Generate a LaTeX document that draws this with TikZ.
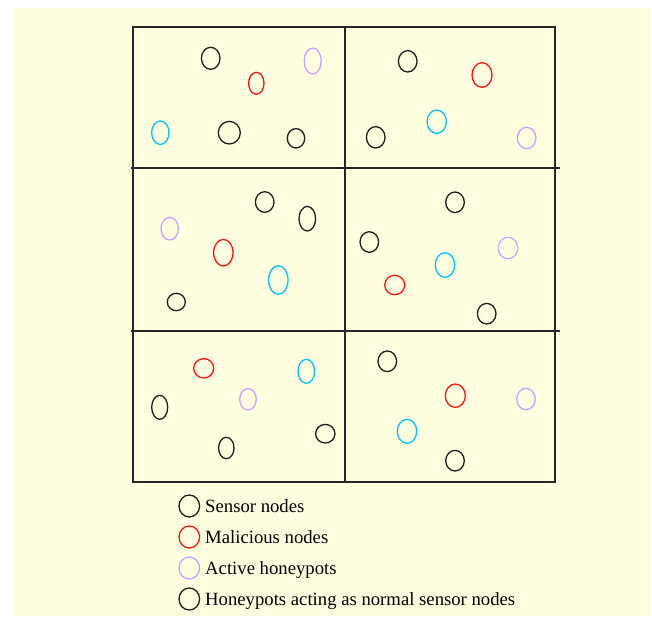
\documentclass[tikz,border=0pt]{standalone}
\usepackage{fontspec}
\setmainfont{Liberation Serif}
\usetikzlibrary{shapes.geometric}
\definecolor{bgyellow}{RGB}{255,255,224}
\definecolor{nblack}{RGB}{30,30,30}
\definecolor{nred}{RGB}{255,20,20}
\definecolor{nlav}{RGB}{200,160,255}
\definecolor{ncyan}{RGB}{0,195,250}
\tikzset{
  nd/.style 2 args={ellipse, draw, line width=1.3pt, inner sep=0pt, minimum width=#1pt, minimum height=#2pt},
  sens/.style={draw=nblack},
  mal/.style={draw=nred},
  act/.style={draw=nlav},
  pas/.style={draw=ncyan},
  gridline/.style={draw=black!85, line width=1.3pt},
  legtext/.style={anchor=base west, inner sep=0pt, font=\fontsize{18.7}{22}\selectfont}
}
\begin{document}
\begin{tikzpicture}[x=1pt,y=-1pt]
\useasboundingbox (0,0) rectangle (652,616);
\fill[bgyellow] (13,8) rectangle (650,616);
% frame
\coordinate (tl) at (133,27); \coordinate (br) at (555,482);
\draw[gridline] (tl) rectangle (br);
\coordinate (vt) at (345,27); \coordinate (vb) at (345,482);
\draw[gridline] (vt) -- (vb);
\coordinate (h1l) at (131,168); \coordinate (h1r) at (560,168);
\coordinate (h2l) at (131,331); \coordinate (h2r) at (560,331);
\draw[gridline] (h1l) -- (h1r);
\draw[gridline] (h2l) -- (h2r);
% cell 1
\node[nd={18.6}{22}, sens] (a1) at (210.7,58.3) {};
\node[nd={15.4}{22}, mal] (a2) at (256.3,83.3) {};
\node[nd={17}{26}, act] (a3) at (312.7,61) {};
\node[nd={17.4}{23.4}, pas] (a4) at (160.3,132.7) {};
\node[nd={22}{22.6}, sens] (a5) at (229.3,132.7) {};
\node[nd={17.4}{19.4}, sens] (a6) at (296,138.3) {};
% cell 2
\node[nd={18.6}{21.4}, sens] (b1) at (407.7,61.3) {};
\node[nd={20}{24.6}, mal] (b2) at (482,75) {};
\node[nd={19.4}{23.4}, pas] (b3) at (436.7,121.7) {};
\node[nd={18.6}{21.4}, sens] (b4) at (375.7,137.3) {};
\node[nd={18.6}{21.4}, act] (b5) at (526.7,138) {};
% cell 3
\node[nd={17.4}{22.6}, act] (c1) at (169.7,228.7) {};
\node[nd={19.4}{26.6}, mal] (c2) at (223.3,252.7) {};
\node[nd={18.6}{20.6}, sens] (c3) at (264.7,202) {};
\node[nd={16.6}{24.6}, sens] (c4) at (307.3,218.7) {};
\node[nd={19.4}{28.6}, pas] (c5) at (278.3,280) {};
\node[nd={18}{17.4}, sens] (c6) at (176.3,302) {};
% cell 4
\node[nd={18.6}{20.6}, sens] (d1) at (455,202.3) {};
\node[nd={18.6}{20.6}, sens] (d2) at (369.3,242) {};
\node[nd={19.4}{21.4}, act] (d3) at (508,248) {};
\node[nd={19.4}{24.6}, pas] (d4) at (445,265) {};
\node[nd={20}{19.4}, mal] (d5) at (394.7,285) {};
\node[nd={18.6}{20.6}, sens] (d6) at (486.7,313.7) {};
% cell 5
\node[nd={20}{19.4}, mal] (e1) at (203.7,368.3) {};
\node[nd={16.6}{24}, pas] (e2) at (306.3,371.3) {};
\node[nd={16}{24}, sens] (e3) at (159.7,407.3) {};
\node[nd={16.6}{21.4}, act] (e4) at (248,399.3) {};
\node[nd={19.4}{18.6}, sens] (e5) at (325.3,433.7) {};
\node[nd={15.4}{21.4}, sens] (e6) at (226.3,448) {};
% cell 6
\node[nd={18.6}{20.6}, sens] (f1) at (387.3,361.3) {};
\node[nd={20}{23.4}, mal] (f2) at (455.3,395.7) {};
\node[nd={18.6}{21.4}, act] (f3) at (526,399) {};
\node[nd={19.4}{24}, pas] (f4) at (407,431.3) {};
\node[nd={18.6}{20.6}, sens] (f5) at (455,460.7) {};
% legend
\node[nd={20.6}{22}, sens] (l1) at (189.3,506) {};
\node[nd={20.6}{22}, mal] (l2) at (189.3,537) {};
\node[nd={20.6}{22}, act] (l3) at (189.3,568) {};
\node[nd={20.6}{22}, sens] (l4) at (189.3,599) {};
\node[legtext] (t1) at (205,512.5) {Sensor nodes};
\node[legtext] (t2) at (205,543.5) {Malicious nodes};
\node[legtext] (t3) at (205,574.5) {Active honeypots};
\node[legtext] (t4) at (205,605.5) {Honeypots acting as normal sensor nodes};
\end{tikzpicture}
\end{document}
